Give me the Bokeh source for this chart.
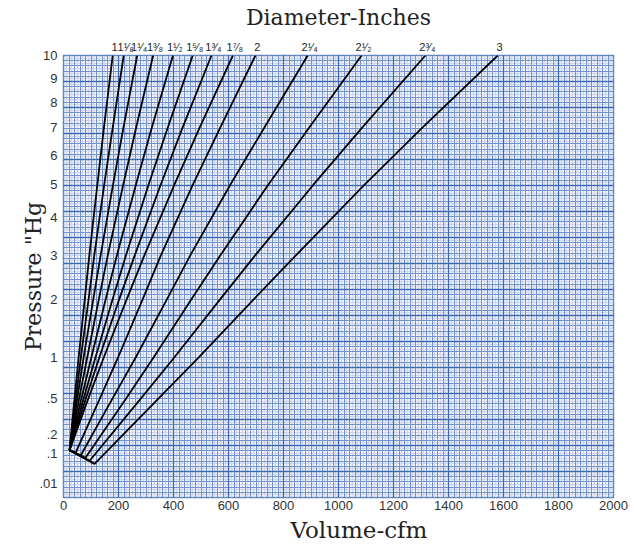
import math
from bokeh.plotting import figure
from bokeh.models import FixedTicker, Grid, Range1d, Title, LinearAxis
from bokeh.embed import file_html
from bokeh.resources import INLINE

# ---- data ----
diameter_labels = ["1", "1¹⁄₈", "1¹⁄₄", "1³⁄₈", "1¹⁄₂", "1⁵⁄₈", "1³⁄₄", "1⁷⁄₈",
                   "2", "2¹⁄₄", "2¹⁄₂", "2³⁄₄", "3"]
origin_cfm = 22
origin_hg = 0.115
pressure_levels = [0.5, 1, 2, 3, 5, 7, 10]

vol_1 = [40, 55, 77, 94, 123, 147, 179]
vol_1_18 = [45, 63, 91, 112, 148, 179, 219]
vol_1_14 = [50, 73, 108, 135, 180, 218, 268]
vol_1_38 = [57, 86, 128, 161, 217, 264, 326]
vol_1_12 = [65, 101, 153, 194, 263, 321, 398]
vol_1_58 = [73, 116, 178, 227, 309, 379, 470]
vol_1_34 = [81, 130, 202, 259, 353, 433, 538]
vol_1_78 = [90, 146, 229, 294, 403, 495, 616]
vol_2 = [132, 198, 287, 354, 470, 570, 698]
vol_2_14 = [178, 262, 375, 461, 606, 730, 888]
vol_2_12 = [227, 327, 464, 570, 744, 893, 1084]
vol_2_34 = [281, 402, 568, 697, 908, 1086, 1316]
vol_3 = [345, 491, 690, 845, 1094, 1305, 1579]

low_cfm = [None, None, None, None, None, None, None, None, 44, 62, 80, 95, 113]
low_hg = [None, None, None, None, None, None, None, None, 0.102, 0.089, 0.081, 0.069, 0.058]

x_ticks = [0, 200, 400, 600, 800, 1000, 1200, 1400, 1600, 1800, 2000]
y_tick_values = [0.01, 0.1, 0.2, 0.5, 1, 2, 3, 4, 5, 6, 7, 8, 9, 10]
y_tick_labels = [".01", ".1", ".2", ".5", "1", "2", "3", "4", "5", "6", "7", "8", "9", "10"]

curves = [vol_1, vol_1_18, vol_1_14, vol_1_38, vol_1_12, vol_1_58, vol_1_34,
          vol_1_78, vol_2, vol_2_14, vol_2_12, vol_2_34, vol_3]

tick_font = "Liberation Sans"
serif = "DejaVu Serif"

# ---- main chart ----
y_top = math.sqrt(10)
p = figure(width=634, height=548, output_backend="svg", toolbar_location=None,
           x_range=Range1d(0, 2000), y_range=Range1d(0, y_top),
           min_border_left=63, min_border_right=21, min_border_top=55,
           min_border_bottom=51, background_fill_color="white")
# label range: same scale, nudged ~2px right so labels sit just right of curve ends
p.extra_x_ranges = {"labels": Range1d(-7, 1993)}
p.grid.visible = False
p.outline_line_color = "#5a7fbd"
p.outline_line_width = 1.5

# graph-paper grid
blue_pale = "#cdd8ee"
blue_mid = "#7391ca"
blue_dark = "#3d67ae"
p.add_layout(Grid(dimension=0, ticker=FixedTicker(ticks=[10 + 20 * k for k in range(100)]),
                  grid_line_color=blue_pale, grid_line_width=1.6))
p.add_layout(Grid(dimension=1, ticker=FixedTicker(ticks=[(k + 0.5) * y_top / 85 for k in range(85)]),
                  grid_line_color=blue_pale, grid_line_width=1.6))
p.add_layout(Grid(dimension=0, ticker=FixedTicker(ticks=[20 * k for k in range(1, 100)]),
                  grid_line_color=blue_mid, grid_line_width=1))
p.add_layout(Grid(dimension=1, ticker=FixedTicker(ticks=[k * y_top / 85 for k in range(1, 85)]),
                  grid_line_color=blue_mid, grid_line_width=1))
p.add_layout(Grid(dimension=0, ticker=FixedTicker(ticks=[200 * k for k in range(1, 10)]),
                  grid_line_color=blue_dark, grid_line_width=1.3))
p.add_layout(Grid(dimension=1, ticker=FixedTicker(ticks=[k * y_top / 17 for k in range(1, 17)]),
                  grid_line_color=blue_dark, grid_line_width=1.3))

# curves
for i, vols in enumerate(curves):
    xs = [origin_cfm]
    ps = [origin_hg]
    if low_cfm[i] is not None:
        xs.append(low_cfm[i])
        ps.append(low_hg[i])
    xs += vols
    ps += pressure_levels
    p.line(xs, [math.sqrt(v) for v in ps], line_color="black", line_width=1.8)

# x axis
xa = p.xaxis[0]
xa.ticker = FixedTicker(ticks=x_ticks)
xa.axis_line_color = None
xa.major_tick_line_color = None
xa.minor_tick_line_color = None
xa.major_tick_out = 0
xa.major_tick_in = 0
xa.minor_tick_out = 0
xa.major_label_text_font = tick_font
xa.major_label_text_font_size = "13px"
xa.major_label_text_color = "#333333"
xa.major_label_standoff = 3
p.add_layout(Title(text="Volume-cfm", align="left", offset=227, standoff=4,
                   text_font=serif, text_font_style="normal", text_font_size="23px",
                   text_color="#222222"), "below")

# y axis (square-root pressure scale)
y_ticks = [math.sqrt(v) for v in y_tick_values]
ya = p.yaxis[0]
ya.ticker = FixedTicker(ticks=y_ticks)
ya.major_label_overrides = {t: lbl for t, lbl in zip(y_ticks, y_tick_labels)}
ya.axis_line_color = None
ya.major_tick_line_color = None
ya.minor_tick_line_color = None
ya.major_tick_out = 0
ya.major_tick_in = 0
ya.minor_tick_out = 0
ya.major_label_text_font = tick_font
ya.major_label_text_font_size = "13px"
ya.major_label_text_color = "#333333"
ya.major_label_standoff = 6
ya.axis_label = 'Pressure "Hg'
ya.axis_label_text_font = serif
ya.axis_label_text_font_style = "normal"
ya.axis_label_text_font_size = "22px"
ya.axis_label_text_color = "#222222"
ya.axis_label_standoff = -10

# top axis: diameter labels at the end of each curve + heading
ends = [c[-1] for c in curves]
ta = LinearAxis(x_range_name="labels", ticker=FixedTicker(ticks=ends),
                major_label_overrides={e: lbl for e, lbl in zip(ends, diameter_labels)},
                axis_line_color=None, major_tick_line_color=None, minor_tick_line_color=None,
                major_tick_out=0, major_tick_in=0, minor_tick_out=0,
                major_label_text_font=tick_font, major_label_text_font_size="11px",
                major_label_text_color="#222222", major_label_standoff=3,
                axis_label="Diameter-Inches", axis_label_text_font=serif,
                axis_label_text_font_style="normal", axis_label_text_font_size="22px",
                axis_label_text_color="#222222", axis_label_standoff=8)
p.add_layout(ta, "above")

open("out.html", "w").write(file_html(p, INLINE))
